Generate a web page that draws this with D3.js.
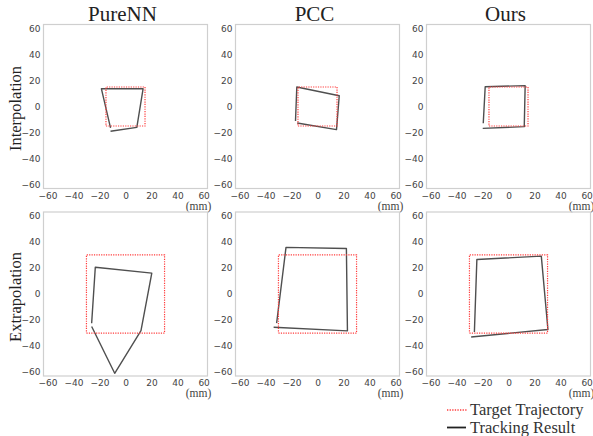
<!DOCTYPE html>
<html><head><meta charset="utf-8">
<script src="https://cdn.jsdelivr.net/npm/d3@7/dist/d3.min.js"></script>
<style>body{margin:0;background:#fff}svg{display:block}</style>
</head><body>
<script>
const columns = ["PureNN", "PCC", "Ours"];
const rows = ["Interpolation", "Extrapolation"];
const tickValues = [-60, -40, -20, 0, 20, 40, 60];
const axisDomain = [-63, 63];
const unitLabel = "(mm)";
const legendLabels = ["Target Trajectory", "Tracking Result"];

const targetInterp = [[-15,-15],[15,-15],[15,15],[-15,15],[-15,-15]];
const targetExtrap = [[-30,-30],[30,-30],[30,30],[-30,30],[-30,-30]];

const trackPureNNInterp = [[-11.5,-19],[8.7,-16],[13.5,13.6],[-18.5,13.6],[-11.5,-16.4]];
const trackPCCInterp = [[-16.9,-11.2],[-15.9,15],[16.7,8.3],[14.6,-17.8],[-15.6,-12.7]];
const trackOursInterp = [[-19.4,-12.9],[-17.9,15.2],[12.8,16],[12.1,-15.5],[-19.8,-16.8]];
const trackPureNNExtrap = [[-26,-22.5],[-23.2,20.6],[20.2,16],[11.9,-28.1],[-8.3,-60.9],[-26,-25]];
const trackPCCExtrap = [[-31.4,-22.4],[-24.2,35.8],[22.2,35],[23,-28.3],[-33.7,-25.5]];
const trackOursExtrap = [[-26.2,-29.2],[-24.3,26.5],[25.2,29.1],[30.3,-27.3],[-28.7,-33]];

const targets = [targetInterp, targetExtrap];
const tracks = [
  [trackPureNNInterp, trackPCCInterp, trackOursInterp],
  [trackPureNNExtrap, trackPCCExtrap, trackOursExtrap]
];

const W = 593, H = 436;
const size = 164;
const colCenters = [125.5, 317.5, 508.5];
const rowCenters = [106.5, 294];

const svg = d3.select("body").append("svg").attr("width", W).attr("height", H);
const serif = "'Liberation Serif', 'Times New Roman', serif";
const sans = "'DejaVu Sans', sans-serif";
const fmt = d => (d < 0 ? "\u2212" : "") + Math.abs(d);

rows.forEach((rname, r) => {
  svg.append("text")
    .attr("transform", `translate(20.5,${rowCenters[r] + (r === 0 ? 2 : 3)}) rotate(-90)`)
    .attr("text-anchor", "middle")
    .attr("font-family", serif).attr("font-size", 16.5).attr("fill", "#222")
    .text(rname);

  columns.forEach((cname, c) => {
    const x0 = colCenters[c] - size / 2, y0 = rowCenters[r] - size / 2;
    const x = d3.scaleLinear().domain(axisDomain).range([x0, x0 + size]);
    const y = d3.scaleLinear().domain(axisDomain).range([y0 + size, y0]);
    const g = svg.append("g");

    if (r === 0) {
      g.append("text").attr("x", colCenters[c] - 3).attr("y", 20.5)
        .attr("text-anchor", "middle").attr("font-family", serif)
        .attr("font-size", 21).attr("fill", "#222").text(cname);
    }

    const xAxis = d3.axisBottom(x).tickValues(tickValues).tickFormat(fmt).tickSize(0).tickPadding(4);
    const yAxis = d3.axisLeft(y).tickValues(tickValues).tickFormat(fmt).tickSize(0).tickPadding(3);
    const gx = g.append("g").attr("transform", `translate(0,${y0 + size})`).call(xAxis);
    const gy = g.append("g").attr("transform", `translate(${x0},0)`).call(yAxis);
    [gx, gy].forEach(a => {
      a.select(".domain").remove();
      a.selectAll("text").attr("font-family", sans).attr("font-size", 9).attr("fill", "#444");
    });

    g.append("rect").attr("x", x0).attr("y", y0).attr("width", size).attr("height", size)
      .attr("fill", "none").attr("stroke", "#cfcfcf").attr("stroke-width", 1.2);

    const line = d3.line().x(d => x(d[0])).y(d => y(d[1]));
    g.append("path").attr("d", line(tracks[r][c])).attr("fill", "none")
      .attr("stroke", "#4f4f4f").attr("stroke-width", 1.4).attr("stroke-linejoin", "round");
    g.append("path").attr("d", line(targets[r])).attr("fill", "none")
      .attr("stroke", "#ff3b3b").attr("stroke-width", 1.2).attr("stroke-dasharray", "1.2,1.2");

    g.append("text").attr("x", x0 + size - 9).attr("y", y0 + size + 21)
      .attr("text-anchor", "middle").attr("font-family", serif)
      .attr("font-size", 11.5).attr("fill", "#444").text(unitLabel);
  });
});

// legend
const lg = svg.append("g");
lg.append("line").attr("x1", 447).attr("x2", 467).attr("y1", 410).attr("y2", 410)
  .attr("stroke", "#ff3b3b").attr("stroke-width", 1.4).attr("stroke-dasharray", "1.3,1.3");
lg.append("text").attr("x", 470).attr("y", 415).attr("font-family", serif)
  .attr("font-size", 16.5).attr("fill", "#333").text(legendLabels[0]);
lg.append("line").attr("x1", 447).attr("x2", 466).attr("y1", 427.5).attr("y2", 427.5)
  .attr("stroke", "#222").attr("stroke-width", 1.8);
lg.append("text").attr("x", 470).attr("y", 432.5).attr("font-family", serif)
  .attr("font-size", 16.5).attr("fill", "#333").text(legendLabels[1]);
</script>
</body></html>
